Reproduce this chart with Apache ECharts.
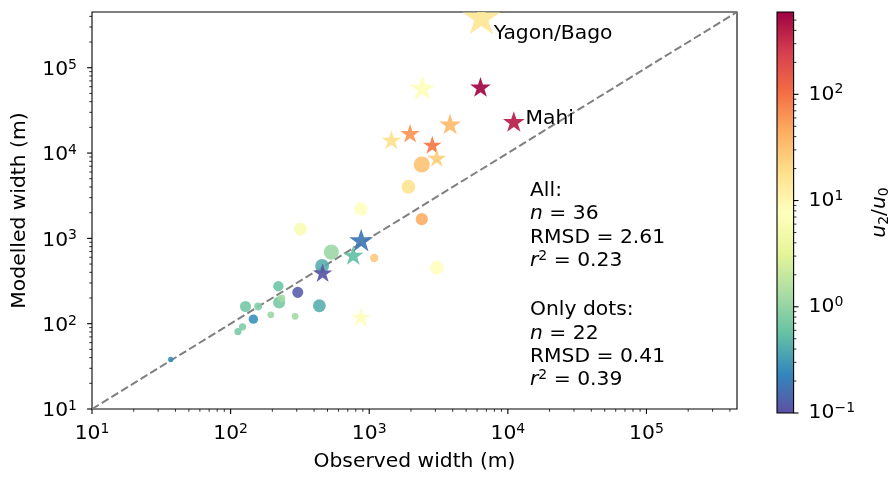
<!DOCTYPE html>
<html>
<head>
<meta charset="utf-8">
<script src="https://cdn.jsdelivr.net/npm/echarts@6/dist/echarts.min.js"></script>
<style>
html,body{margin:0;padding:0;background:#fff;}
#chart{width:892px;height:477px;}
</style>
</head>
<body>
<div id="chart"></div>
<script>
// ---------------- data ----------------
// dots: observed width (m), modelled width (m), u2/u0, marker area (pt^2)
const dotObserved = [37, 113, 122, 146, 128, 158, 195, 221, 224, 233, 292, 305, 437, 457, 533, 1086, 871, 319, 2394, 3070, 2394, 1918];
const dotModelled = [38, 81, 92, 113, 159, 159, 127, 275, 177, 199, 122, 233, 162, 475, 690, 588, 2210, 1285, 1680, 454, 7350, 4020];
const dotRatio    = [0.25, 0.7, 0.75, 0.26, 0.65, 0.8, 1.1, 0.6, 0.7, 1.2, 1.2, 0.12, 0.42, 0.42, 1.1, 28, 8, 6, 45, 8, 32, 17];
const dotArea     = [15, 27, 27, 46, 64, 32, 24, 56, 76, 30, 24, 64, 86, 100, 118, 36, 90, 86, 76, 96, 135, 100];

// stars
const starObserved = [6440, 2420, 6350, 11040, 3830, 1972, 1445, 2850, 3070, 461, 767, 875, 871];
const starModelled = [378000, 56400, 57900, 22750, 21300, 16600, 13900, 12200, 8550, 386, 621, 925, 117];
const starRatio    = [15, 8, 550, 400, 35, 60, 18, 90, 25, 0.11, 0.55, 0.18, 7];
const starArea     = [800, 390, 245, 270, 270, 220, 220, 200, 200, 220, 245, 330, 220];

// annotated rivers
const labelNames    = ['Yagon/Bago', 'Mahi'];
const labelObserved = [6440, 11040];
const labelModelled = [378000, 22750];

// 1:1 line
const oneToOne = [10, 450000];

// axis ranges
const axisMin = 10, axisMax = 450000;
const cbarMin = 0.1, cbarMax = 596;

// statistics text
const statsAll  = ['36', '2.61', '0.23'];
const statsDots = ['22', '0.41', '0.39'];

// ---------------- styles ----------------
const FONT = 'DejaVu Sans';
const FS = 20.3;
const SUP = 14;
const LH = 23.4;
const PX_PER_PT = 100 / 72;
const spectralR = ['#5e4fa2','#3288bd','#66c2a5','#abdda4','#e6f598','#ffffbf','#fee08b','#fdae61','#f46d43','#d53e4f','#9e0142'];
const labelOffsets = [[12.5, 15.5], [11.7, -4]];

const richTick = {
  b: {fontFamily: FONT, fontSize: FS, lineHeight: LH, color: '#000'},
  sup: {fontFamily: FONT, fontSize: SUP, lineHeight: 13, verticalAlign: 'top', color: '#000'}
};
function powLabel(v) {
  const e = Math.log10(v);
  const r = Math.round(e);
  if (Math.abs(e - r) > 1e-6) return '';
  const s = r < 0 ? '\u2212' + (-r) : String(r);
  return '{b|10}{sup|' + s + '}';
}
function tickValues(lo, hi) {
  const out = [];
  for (let k = Math.floor(Math.log10(lo)); k <= Math.ceil(Math.log10(hi)); k++) {
    for (let m = 1; m <= 9; m++) {
      const v = m * Math.pow(10, k);
      if (v >= lo * 0.9999 && v <= hi * 1.0001) out.push([v, m === 1 ? 1 : 0]);
    }
  }
  return out;
}
function markerRender(isStar) {
  return function (params, api) {
    const c = api.coord([api.value(0), api.value(1)]);
    const r = Math.sqrt(api.value(2)) * PX_PER_PT / 2;
    const fill = api.visual('color');
    if (isStar) {
      const pts = [];
      for (let k = 0; k < 10; k++) {
        const rr = k % 2 === 0 ? r : r * 0.381966;
        const a = -Math.PI / 2 + k * Math.PI / 5;
        pts.push([c[0] + rr * Math.cos(a), c[1] + rr * Math.sin(a)]);
      }
      return {type: 'polygon', shape: {points: pts}, style: {fill: fill, opacity: 0.92}};
    }
    return {type: 'circle', shape: {cx: c[0], cy: c[1], r: r}, style: {fill: fill, opacity: 0.88}};
  };
}
function tickRender(dir) {
  return function (params, api) {
    const p = api.coord([api.value(0), api.value(1)]);
    const major = api.value(2) === 1;
    const len = major ? 4.9 : 2.8;
    let x2 = p[0], y2 = p[1];
    if (dir === 'down') y2 += len;
    if (dir === 'left') x2 -= len;
    if (dir === 'right') x2 += len;
    return {type: 'line', shape: {x1: p[0], y1: p[1], x2: x2, y2: y2},
            style: {stroke: '#000', lineWidth: major ? 1.1 : 0.8}};
  };
}

const dotData = dotObserved.map((x, i) => [x, dotModelled[i], dotArea[i], Math.log10(dotRatio[i])]);
const starData = starObserved.map((x, i) => [x, starModelled[i], starArea[i], Math.log10(starRatio[i])]);
const xTicks = tickValues(axisMin, axisMax).map(t => [t[0], axisMin, t[1]]);
const yTicks = tickValues(axisMin, axisMax).map(t => [axisMin, t[0], t[1]]);
const cTicks = tickValues(cbarMin, cbarMax).map(t => [1, t[0], t[1]]);

const statRich = {
  i: {fontFamily: FONT, fontSize: FS, lineHeight: LH, fontStyle: 'italic', fill: '#000'},
  sup: {fontFamily: FONT, fontSize: SUP, lineHeight: 13, verticalAlign: 'top', fill: '#000'}
};
function statLines(title, s) {
  return [title, '{i|n} = ' + s[0], 'RMSD = ' + s[1], '{i|r}{sup|2} = ' + s[2]].join('\n');
}

const chart = echarts.init(document.getElementById('chart'), null, {renderer: 'canvas'});
chart.setOption({
  backgroundColor: '#fff',
  animation: false,
  grid: [
    {left: 92, top: 12, width: 645, height: 401, show: true, borderColor: '#000', borderWidth: 1.1, backgroundColor: 'transparent'},
    {left: 777, top: 12, width: 19, height: 401, show: false}
  ],
  xAxis: [
    {type: 'log', logBase: 10, min: axisMin, max: axisMax, gridIndex: 0,
     axisLine: {show: false}, axisTick: {show: false}, splitLine: {show: false},
     axisLabel: {formatter: powLabel, rich: richTick, margin: 13, showMinLabel: true, showMaxLabel: true},
     name: 'Observed width (m)', nameLocation: 'middle', nameGap: 43,
     nameTextStyle: {fontFamily: FONT, fontSize: FS, color: '#000'}},
    {type: 'value', min: 0, max: 1, gridIndex: 1, show: false}
  ],
  yAxis: [
    {type: 'log', logBase: 10, min: axisMin, max: axisMax, gridIndex: 0,
     axisLine: {show: false}, axisTick: {show: false}, splitLine: {show: false},
     axisLabel: {formatter: powLabel, rich: richTick, margin: 15, padding: [4, 0, 0, 0], showMinLabel: true, showMaxLabel: true},
     name: 'Modelled width (m)', nameLocation: 'middle', nameGap: 62,
     nameTextStyle: {fontFamily: FONT, fontSize: FS, color: '#000'}},
    {type: 'log', logBase: 10, min: cbarMin, max: cbarMax, gridIndex: 1, position: 'right',
     axisLine: {show: false}, axisTick: {show: false}, splitLine: {show: false},
     axisLabel: {formatter: powLabel, rich: richTick, margin: 15, showMinLabel: true, showMaxLabel: true},
     name: '{i|u}{sub|2}{n|/}{i|u}{sub|0}', nameLocation: 'middle', nameGap: 74, nameRotate: 90,
     nameTextStyle: {rich: {
       i: {fontFamily: FONT, fontSize: FS, lineHeight: LH, fontStyle: 'italic', color: '#000'},
       n: {fontFamily: FONT, fontSize: FS, lineHeight: LH, color: '#000'},
       sub: {fontFamily: FONT, fontSize: SUP, lineHeight: 13, verticalAlign: 'bottom', color: '#000'}
     }}}
  ],
  visualMap: {
    type: 'continuous', show: false, dimension: 3, seriesIndex: [1, 2],
    min: Math.log10(cbarMin), max: Math.log10(cbarMax),
    inRange: {color: spectralR}
  },
  series: [
    {type: 'line', xAxisIndex: 0, yAxisIndex: 0, data: [[oneToOne[0], oneToOne[0]], [oneToOne[1], oneToOne[1]]],
     symbol: 'none', silent: true, z: 1,
     lineStyle: {color: '#808080', width: 2, type: [8, 3.4]}},
    {type: 'custom', name: 'dots', xAxisIndex: 0, yAxisIndex: 0, data: dotData, clip: true, z: 3,
     renderItem: markerRender(false)},
    {type: 'custom', name: 'stars', xAxisIndex: 0, yAxisIndex: 0, data: starData, clip: true, z: 4,
     renderItem: markerRender(true)},
    {type: 'custom', name: 'labels', xAxisIndex: 0, yAxisIndex: 0, clip: false, z: 5,
     data: labelObserved.map((x, i) => [x, labelModelled[i]]),
     renderItem: function (params, api) {
       const p = api.coord([api.value(0), api.value(1)]);
       const o = labelOffsets[params.dataIndex];
       return {type: 'text', x: p[0] + o[0], y: p[1] + o[1],
               style: {text: labelNames[params.dataIndex], fontFamily: FONT, fontSize: FS, fill: '#000',
                       textAlign: 'left', textVerticalAlign: 'middle'}};
     }},
    {type: 'custom', name: 'xticks', xAxisIndex: 0, yAxisIndex: 0, clip: false, data: xTicks, renderItem: tickRender('down')},
    {type: 'custom', name: 'yticks', xAxisIndex: 0, yAxisIndex: 0, clip: false, data: yTicks, renderItem: tickRender('left')},
    {type: 'custom', name: 'cbar', xAxisIndex: 1, yAxisIndex: 1, clip: false,
     data: [[0, cbarMin, 1, cbarMax]],
     renderItem: function (params, api) {
       const a = api.coord([api.value(0), api.value(3)]);
       const b = api.coord([api.value(2), api.value(1)]);
       const stops = spectralR.map((c, i) => ({offset: i / (spectralR.length - 1), color: c}));
       return {type: 'rect', shape: {x: a[0], y: a[1], width: b[0] - a[0], height: b[1] - a[1]},
               style: {fill: new echarts.graphic.LinearGradient(0, 1, 0, 0, stops), stroke: '#000', lineWidth: 1.1}};
     }},
    {type: 'custom', name: 'cticks', xAxisIndex: 1, yAxisIndex: 1, clip: false, data: cTicks, renderItem: tickRender('right')}
  ],
  graphic: [
    {type: 'text', left: 530, top: 190.5 - LH / 2,
     style: {text: statLines('All:', statsAll), fontFamily: FONT, fontSize: FS, lineHeight: LH, fill: '#000', rich: statRich}},
    {type: 'text', left: 530, top: 310 - LH / 2,
     style: {text: statLines('Only dots:', statsDots), fontFamily: FONT, fontSize: FS, lineHeight: LH, fill: '#000', rich: statRich}}
  ]
});
</script>
</body>
</html>
